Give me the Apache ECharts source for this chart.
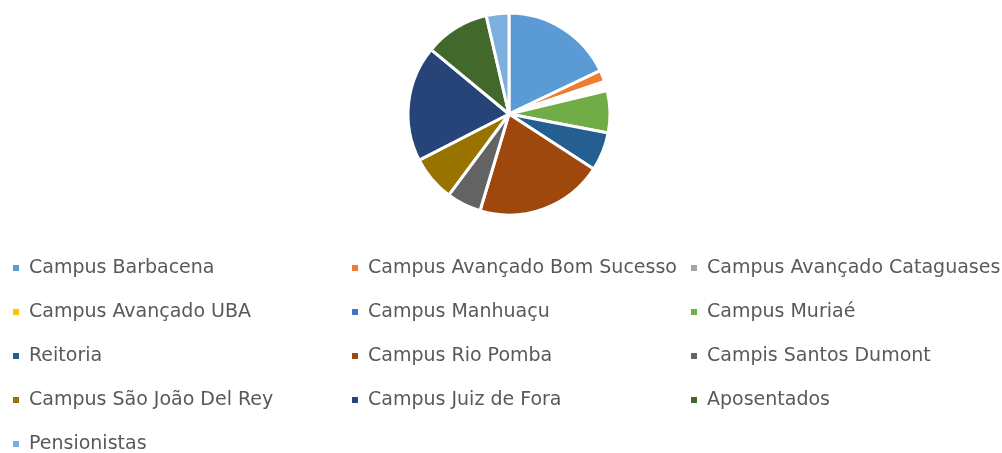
<!DOCTYPE html>
<html>
<head>
<meta charset="utf-8">
<script src="https://cdn.jsdelivr.net/npm/echarts@6/dist/echarts.min.js"></script>
<style>
  html, body { margin: 0; padding: 0; background: #fff; }
  #main { width: 1002px; height: 453px; }
</style>
</head>
<body>
<div id="main"></div>
<script>
// categorias e valores (%)
const names = [
  "Campus Barbacena", "Campus Avançado Bom Sucesso", "Campus Avançado Cataguases",
  "Campus Avançado UBA", "Campus Manhuaçu", "Campus Muriaé",
  "Reitoria", "Campus Rio Pomba", "Campis Santos Dumont",
  "Campus São João Del Rey", "Campus Juiz de Fora", "Aposentados",
  "Pensionistas"
];
const values = [17.8, 1.8, 1.5, 0, 0, 6.7, 6.1, 20.3, 5.5, 7.2, 18.4, 10.3, 3.6];
const colors = [
  "#5B9BD5", "#ED7D31", "#A5A5A5", "#FFC000", "#4472C4", "#70AD47",
  "#255E91", "#9E480E", "#636363", "#997300", "#264478", "#43682B", "#7CAFDD"
];
// a fatia de Cataguases aparece em branco no original
const sliceColors = colors.map((c, i) => (i === 2 ? "#ffffff" : c));

let myEcharts = echarts.init(document.getElementById("main"));

function legendCol(idx, left, top, pad) {
  return {
    orient: "vertical",
    left: left,
    top: top,
    padding: pad,
    itemWidth: 8,
    itemHeight: 8,
    itemGap: 22,
    icon: "rect",
    selectedMode: false,
    textStyle: {
      fontFamily: "DejaVu Sans",
      fontSize: 19,
      color: "#595959",
      lineHeight: 22,
      padding: [0, 0, 0, 4]
    },
    data: idx.map(i => ({ name: names[i], itemStyle: { color: colors[i] } }))
  };
}

let option = {
  animation: false,
  legend: [
    legendCol([0, 3, 6, 9], 6, 252, 5),
    legendCol([1, 4, 7, 10], 345, 252, 5),
    legendCol([2, 5, 8, 11], 684, 252, 5),
    legendCol([12], 11, 433, 0)
  ],
  series: [
    {
      type: "pie",
      center: [509, 114],
      radius: 101,
      startAngle: 90,
      label: { show: false },
      labelLine: { show: false },
      itemStyle: { borderColor: "#fff", borderWidth: 3 },
      emphasis: { disabled: true },
      data: names.map((n, i) => ({
        name: n,
        value: values[i],
        itemStyle: { color: sliceColors[i] }
      }))
    }
  ]
};
myEcharts.setOption(option);
</script>
</body>
</html>
